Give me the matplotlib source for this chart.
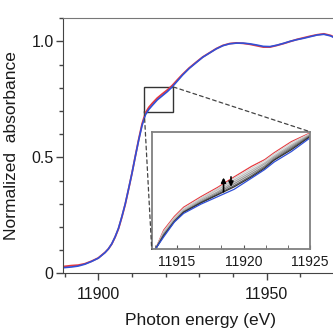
import matplotlib
matplotlib.use("Agg")
import matplotlib.pyplot as plt
from matplotlib.patches import Rectangle, ConnectionPatch
from matplotlib.ticker import MultipleLocator

plt.rcParams['font.family'] = ['Liberation Sans', 'DejaVu Sans']

# main spectra
energy = [11889.6, 11892, 11894, 11896, 11898, 11900, 11901, 11902, 11903, 11904,
          11905, 11906, 11907, 11908, 11909, 11910, 11911, 11912, 11913, 11914,
          11915, 11916, 11917.5, 11919, 11920.5, 11922, 11923.5, 11925, 11927, 11929,
          11931, 11933, 11935, 11937, 11939, 11941, 11943, 11945, 11947, 11949,
          11951, 11953, 11955, 11957, 11959, 11961, 11963, 11965, 11967, 11969, 11971]
mu_blue = [0.025, 0.028, 0.032, 0.040, 0.052, 0.066, 0.078, 0.090, 0.106, 0.128,
           0.158, 0.195, 0.245, 0.300, 0.365, 0.432, 0.505, 0.575, 0.638, 0.684,
           0.707, 0.724, 0.748, 0.766, 0.784, 0.805, 0.830, 0.855, 0.884, 0.908,
           0.932, 0.950, 0.968, 0.982, 0.990, 0.993, 0.993, 0.990, 0.985, 0.979,
           0.978, 0.984, 0.992, 1.001, 1.008, 1.014, 1.021, 1.028, 1.031, 1.024, 1.010]
mu_red = [0.030, 0.034, 0.036, 0.042, 0.053, 0.067, 0.079, 0.091, 0.106, 0.127,
          0.157, 0.193, 0.243, 0.298, 0.364, 0.432, 0.506, 0.578, 0.645, 0.692,
          0.716, 0.733, 0.756, 0.774, 0.791, 0.811, 0.835, 0.858, 0.886, 0.910,
          0.933, 0.951, 0.969, 0.983, 0.991, 0.994, 0.992, 0.988, 0.982, 0.976,
          0.976, 0.983, 0.991, 1.000, 1.009, 1.016, 1.023, 1.029, 1.033, 1.026, 1.012]

# inset spectra
e_zoom = [11913.4, 11914.0, 11914.8, 11915.5, 11916.8, 11918.05, 11919.3,
          11920.6, 11921.6, 11922.3, 11923.6, 11925.0]
z_red = [0.681, 0.711, 0.733, 0.748, 0.765, 0.780, 0.797, 0.814, 0.825, 0.836, 0.854, 0.868]
z_gray = [
    [0.681, 0.709, 0.731, 0.746, 0.763, 0.778, 0.795, 0.811, 0.823, 0.834, 0.852, 0.867],
    [0.681, 0.707, 0.729, 0.744, 0.761, 0.776, 0.792, 0.808, 0.820, 0.831, 0.849, 0.866],
    [0.681, 0.705, 0.727, 0.742, 0.759, 0.773, 0.789, 0.805, 0.818, 0.829, 0.847, 0.865],
    [0.681, 0.704, 0.726, 0.741, 0.757, 0.771, 0.786, 0.802, 0.815, 0.827, 0.845, 0.864],
    [0.681, 0.703, 0.725, 0.740, 0.756, 0.769, 0.783, 0.799, 0.813, 0.825, 0.843, 0.863],
    [0.681, 0.702, 0.725, 0.740, 0.755, 0.768, 0.781, 0.797, 0.811, 0.824, 0.841, 0.862],
]
gray_colors = ['#d4d4d4', '#bdbdbd', '#a5a5a5', '#8a8a8a', '#656565', '#333333']
z_blue = [0.681, 0.700, 0.724, 0.738, 0.753, 0.765, 0.777, 0.795, 0.809, 0.821, 0.838, 0.860]

arrow_x = [11918.5, 11919.06]
arrow_from = [0.773, 0.797]
arrow_to = [0.796, 0.781]

red = '#e8383d'
blue = '#3050d8'
txt = '#1a1a1a'

fig = plt.figure(figsize=(3.33, 3.29), dpi=100)
ax = fig.add_axes([0.190, 0.1687, 0.81, 0.7757])
ax.plot(energy, mu_red, color=red, lw=1.3)
ax.plot(energy, mu_blue, color=blue, lw=1.2)
ax.set_xlim(11889.6, 11969.7)
ax.set_ylim(0, 1.1)
ax.set_xticks([11900, 11950])
ax.xaxis.set_minor_locator(MultipleLocator(10))
ax.set_yticks([0, 0.5, 1.0], labels=['0', '0.5', '1.0'])
ax.yaxis.set_minor_locator(MultipleLocator(0.1))
ax.tick_params(which='major', length=5, width=1, color='#444', labelsize=11.5,
               labelcolor=txt)
ax.tick_params(axis='x', which='major', pad=5)
ax.tick_params(axis='y', which='major', pad=2)
ax.tick_params(which='minor', length=3, width=1, color='#444')
ax.spines['right'].set_visible(False)
ax.spines['left'].set_color('#444')
ax.spines['bottom'].set_color('#444')
ax.spines['top'].set_color('#777')
ax.set_xlabel('Photon energy (eV)', fontsize=12.5, color=txt)
ax.set_ylabel('Normalized  absorbance', fontsize=12.5, color=txt)
ax.xaxis.set_label_coords(0.51, -0.153)
ax.yaxis.set_label_coords(-0.165, 0.5)

# zoom box
ax.add_patch(Rectangle((11913.65, 0.697), 22.3 - 13.65, 0.107, fill=False,
                       ec='#333', lw=1))

ins = fig.add_axes([0.4556, 0.2422, 0.4754, 0.3574])
ins.plot(e_zoom, z_red, color=red, lw=0.9)
for g, c in zip(z_gray, gray_colors):
    ins.plot(e_zoom, g, color=c, lw=0.9)
ins.plot(e_zoom, z_blue, color=blue, lw=0.9)
for x, y0, y1 in zip(arrow_x, arrow_from, arrow_to):
    ins.annotate('', xy=(x, y1), xytext=(x, y0),
                 arrowprops=dict(arrowstyle='-|>', color='black', lw=1.2,
                                 mutation_scale=7, shrinkA=0, shrinkB=0))
ins.set_xlim(11913.1, 11925)
ins.set_ylim(0.68, 0.87)
ins.set_xticks([11915, 11920, 11925])
ins.xaxis.set_minor_locator(MultipleLocator(5 / 3))
ins.set_yticks([])
ins.tick_params(axis='x', which='both', direction='in', length=3, color='#555',
                labelsize=10, labelcolor=txt, pad=4)
for s in ins.spines.values():
    s.set_color('#808080')
    s.set_linewidth(1.3)

for xy_main, xy_ins in [((11913.65, 0.697), (0, 0)), ((11922.3, 0.804), (1, 1))]:
    con = ConnectionPatch(xyA=xy_main, coordsA=ax.transData, xyB=xy_ins,
                          coordsB=ins.transAxes, ls=(0, (3, 2.5)), color='#444', lw=0.9)
    fig.add_artist(con)

fig.savefig('out.png', dpi=100)
